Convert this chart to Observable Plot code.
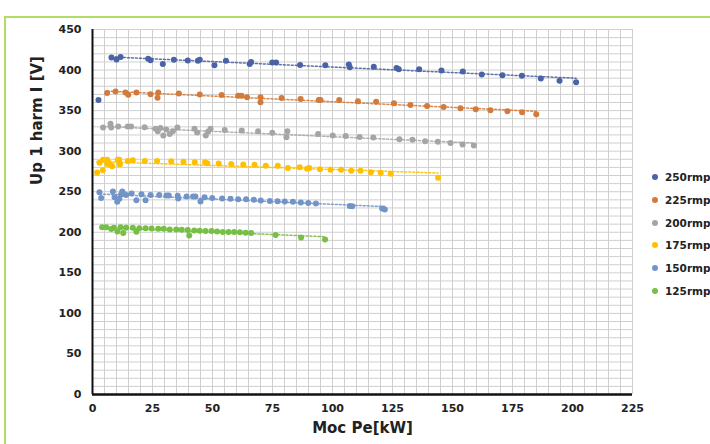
<!DOCTYPE html>
<html><head><meta charset="utf-8">
<script src="https://cdn.jsdelivr.net/npm/d3@7"></script>
<script src="https://cdn.jsdelivr.net/npm/@observablehq/plot@0.6"></script>
<style>
html,body{margin:0;padding:0;background:#fff;width:710px;height:444px;overflow:hidden;font-family:"DejaVu Sans",Verdana,sans-serif;}
#frame{position:absolute;left:4px;top:16px;width:720px;height:440px;border-top:2px solid #b3dc66;border-left:2px solid #b3dc66;}
#chart{position:absolute;left:0;top:0;}
#legend{position:absolute;left:652px;top:166px;font-weight:bold;font-size:10.5px;color:#222;}
.row{height:22.7px;display:flex;align-items:center;white-space:nowrap;}
.sw{width:6px;height:6px;border-radius:50%;margin-right:7px;flex:none;}
</style></head><body>
<div id="frame"></div><div id="chart"></div><div id="legend"></div>
<script>
const seriesNames = ["250rmp", "225rmp", "200rmp", "175rmp", "150rmp", "125rmp"];
const seriesColors = ["#4a63a6", "#d47a3a", "#a5a5a5", "#ffc000", "#7294c8", "#76c043"];
const xTicks = [0, 25, 50, 75, 100, 125, 150, 175, 200, 225];
const yTicks = [0, 50, 100, 150, 200, 250, 300, 350, 400, 450];

// separate start-up reading drawn with the 250rmp colour (not part of its trendline)
const rpm250Start = [[2.5,363]];
const rpm250 = [[7.9,415.5],[10,413],[11.7,416],[23.2,414],[24.2,412],[29.3,407.6],[33.9,412.6],[39.7,411.8],[43.9,411.4],[44.7,412.6],[50.8,406],[55.6,411.4],[65.5,407.6],[66.1,410],[74.9,409.3],[76.5,409.3],[86.5,406.3],[97,406],[106.8,406.9],[107.2,403.5],[117.2,404],[126.7,402.6],[127.6,401],[136.1,401],[145.4,399.5],[154.3,398.2],[162.2,394.5],[170.8,393.7],[178.9,392.9],[186.8,389.6],[194.6,386.7],[201.5,385]];
const rpm225 = [[6.1,371.8],[9.6,373.5],[13.7,372.3],[14.9,369.5],[18.3,372.3],[24.2,370.2],[27.4,372.3],[27.1,365.8],[36,371],[44.7,369.8],[53.8,369.4],[60.7,368.2],[62.1,368.2],[64.4,366.5],[70,366.5],[70,360.4],[78.8,365.7],[86.7,364.4],[94.3,363.2],[95,363.2],[102.8,363.2],[110.6,361.5],[118.2,360.8],[125.6,359.1],[132.5,357],[139.4,355.8],[146.3,354.6],[153.3,352.9],[159.7,351.7],[165.8,350.5],[172.9,349.3],[179,348],[184.9,345.6]];
const rpm200 = [[4.4,329.2],[7.5,333.7],[7.8,329.2],[10.7,330.4],[14.7,330.4],[16.1,330.4],[21.7,329.6],[26.3,327.5],[27.2,324.6],[28.3,328.7],[29.5,319.2],[30.7,326.6],[32.2,321.3],[33.5,324.6],[35.4,329.2],[42.5,327.5],[43.6,323],[47.2,319.2],[48.2,324.2],[49.2,327.5],[55.1,326.2],[62.2,325.4],[69,324.6],[74.9,322.6],[81.2,324.6],[80.8,317.2],[94,321.3],[100.1,319.2],[105.5,318.8],[111.3,317.6],[117,316.8],[127.9,314.8],[133.3,314],[138.6,312.3],[143.9,311.5],[149.2,310.2],[154.2,308.2],[158.9,307]];
const rpm175 = [[1.9,273.7],[4.3,276.6],[2.9,285.6],[4.4,289.3],[6.1,289.3],[6.8,285.6],[7.5,283.1],[8.2,281.4],[6.1,284.3],[10.5,289.3],[11.2,289.3],[11.4,283.6],[14.7,288],[16.8,288.8],[21.8,288],[26.9,288],[32.8,287.6],[37.9,286.8],[42.6,286.4],[46.9,286.4],[47.8,285.2],[52.6,284.8],[57.8,284.3],[62.8,283.5],[67.5,283.1],[72.2,281.9],[77.2,281.9],[81.4,279.4],[86.3,280.2],[89.4,278.2],[90.3,279.4],[94.8,277.8],[99.2,277],[103.6,277],[107.8,275.8],[111.7,275.8],[116,274.1],[120.1,273.3],[124.3,272.1],[144,267.1]];
const rpm150 = [[2.9,249.4],[3.6,242.4],[8.5,250.3],[9.2,243.2],[10.3,237.5],[11.2,241.2],[11.9,246.5],[12.4,250.3],[13,247.4],[14,246.1],[16.3,247.8],[18.3,239.6],[20.4,246.9],[22.1,239.6],[24.2,246.1],[27.8,246.1],[30.8,245.3],[31.8,245.3],[35.5,244.9],[35.7,241.6],[39.2,244.1],[41.9,244.1],[42.9,244.1],[45,237.9],[46.7,243.3],[49.9,242.4],[54,241.6],[57.5,241.2],[60.7,240.8],[64,240.8],[67.2,240],[70.1,239.2],[73.9,238.7],[77.1,238.3],[80.1,237.9],[83.5,237.5],[86.8,236.7],[89.9,236.2],[93.1,235.4],[107.2,232.5],[108.2,232],[120.7,229.3],[121.8,228.1]];
const rpm125 = [[4,206.3],[5.7,206.3],[7.8,203.9],[8.9,205.5],[10.4,201],[11.7,206.3],[12.8,199],[14,205.5],[16.8,205.5],[18.3,200.6],[19.5,205.1],[22.1,205.1],[24.6,204.7],[27.4,204.3],[29.7,204.3],[32.2,203.5],[34.9,203.5],[37.2,203.1],[39.7,202.7],[40.3,196.1],[42.4,202.3],[44.7,201.9],[47.1,201.5],[49.6,201.5],[51.9,201.1],[54.3,200.3],[56.7,200.3],[59,200.3],[61.4,199.9],[63.8,199.5],[66.1,199],[76.3,196.5],[86.9,193.7],[96.9,191.2]];

const seriesData = [rpm250, rpm225, rpm200, rpm175, rpm150, rpm125];
const fitRows = seriesData.flatMap((pts, i) => pts.map(([x, y]) => ({x, y, rpm: seriesNames[i]})));
const extraRows = rpm250Start.map(([x, y]) => ({x, y, rpm: seriesNames[0]}));
const allRows = extraRows.concat(fitRows);

const gridXValues = d3.range(0, 226, 5);
const gridYValues = d3.range(0, 451, 10);

const chart = Plot.plot({
  width: 710, height: 444,
  marginLeft: 92, marginRight: 78, marginTop: 29, marginBottom: 50,
  style: {fontFamily: "'DejaVu Sans', Verdana, sans-serif", fontWeight: "bold", fontSize: "11px", color: "#222", background: "transparent"},
  x: {domain: [0, 225]},
  y: {domain: [0, 450]},
  color: {domain: seriesNames, range: seriesColors},
  marks: [
    Plot.gridX(gridXValues, {stroke: "#cfcfcf", strokeOpacity: 1, strokeWidth: 1}),
    Plot.gridY(gridYValues, {stroke: "#cfcfcf", strokeOpacity: 1, strokeWidth: 1}),
    Plot.axisX(xTicks, {tickSize: 0, tickPadding: 10, label: null, fontWeight: "bold"}),
    Plot.axisY(yTicks, {tickSize: 0, tickPadding: 11, label: null, fontWeight: "bold"}),
    Plot.dot(allRows, {x: "x", y: "y", fill: "rpm", r: 3}),
    Plot.linearRegressionY(fitRows, {x: "x", y: "y", stroke: "rpm", ci: 0, strokeWidth: 1.5, strokeDasharray: "2,2", strokeOpacity: 0.9}),
    Plot.ruleX([0], {stroke: "#111", strokeWidth: 2}),
    Plot.ruleY([0], {stroke: "#111", strokeWidth: 2.5}),
    Plot.text(["Moc Pe[kW]"], {frameAnchor: "bottom", dy: 38, fontSize: 15, fontWeight: "bold", fill: "#222"}),
    Plot.text(["Up 1 harm I [V]"], {frameAnchor: "left", dx: -55, dy: -27, rotate: -90, fontSize: 15, fontWeight: "bold", fill: "#222"})
  ]
});
document.getElementById("chart").appendChild(chart);

const legend = document.getElementById("legend");
seriesNames.forEach((n, i) => {
  const row = document.createElement("div");
  row.className = "row";
  const sw = document.createElement("span");
  sw.className = "sw";
  sw.style.background = seriesColors[i];
  const t = document.createElement("span");
  t.textContent = n;
  row.appendChild(sw); row.appendChild(t);
  legend.appendChild(row);
});
</script></body></html>
